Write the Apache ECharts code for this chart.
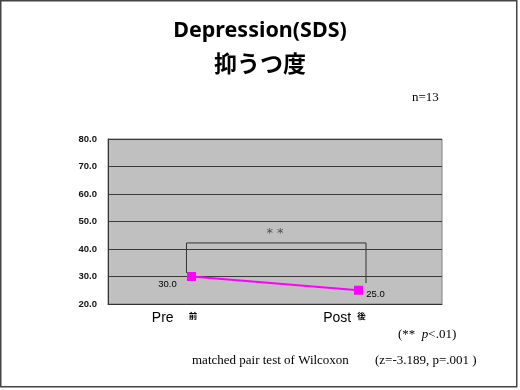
<!DOCTYPE html>
<html>
<head>
<meta charset="utf-8">
<script src="https://cdn.jsdelivr.net/npm/echarts@6/dist/echarts.min.js"></script>
<style>html,body{margin:0;padding:0;background:#fff;}#c{width:520px;height:390px;}</style>
</head>
<body>
<div id="c"></div>
<script>
var categories = ['Pre', 'Post'];
var categoryKanji = ['前', '後'];
var values = [30.0, 25.0];
var yTicks = [20, 30, 40, 50, 60, 70, 80];
var bracketX = [-0.03, -0.03, 1.045, 1.045];
var bracketY = [31.3, 42.2, 42.2, 27.6];
var starPoint = [0.5, 45.6];

var chart = echarts.init(document.getElementById('c'));
var bracketData = bracketX.map(function (x, i) { return [x, bracketY[i]]; });

chart.setOption({
  animation: false,
  backgroundColor: '#ffffff',
  title: [
    { text: 'Depression(SDS)', left: 'center', top: 20, padding: 0,
      textStyle: { fontFamily: 'Noto Sans', fontWeight: 'bold', fontSize: 21.5, color: '#000' } },
    { text: '抑うつ度', left: 'center', top: 52, padding: 0,
      textStyle: { fontFamily: 'Noto Sans CJK JP', fontWeight: 'bold', fontSize: 23, color: '#000' } }
  ],
  grid: { left: 108, right: 78, top: 139, bottom: 86, show: true,
    backgroundColor: '#C0C0C0', borderColor: '#808080', borderWidth: 1 },
  xAxis: [
    { type: 'category', data: categories, boundaryGap: true,
      axisLine: { lineStyle: { color: '#333', width: 1 } },
      axisTick: { inside: true, length: 4, lineStyle: { color: '#555' } },
      axisLabel: {
        margin: 7,
        formatter: function (v, i) {
          return '{a|' + v + '}{k' + i + '|' + categoryKanji[i] + '}';
        },
        rich: {
          a: { fontFamily: 'Liberation Sans', fontSize: 14, color: '#000' },
          k0: { fontFamily: 'Noto Sans CJK JP', fontWeight: 'bold', fontSize: 8.5, color: '#000', padding: [0, 34, 4, 15] },
          k1: { fontFamily: 'Noto Sans CJK JP', fontWeight: 'bold', fontSize: 8.5, color: '#000', padding: [0, 28, 4, 6] }
        }
      }
    },
    { type: 'value', min: -0.5, max: 1.5, show: false }
  ],
  yAxis: {
    type: 'value', min: yTicks[0], max: yTicks[yTicks.length - 1], interval: 10,
    axisLine: { show: true, onZero: false, lineStyle: { color: '#333' } },
    axisTick: { show: false },
    axisLabel: { margin: 11, fontFamily: 'Liberation Sans', fontWeight: 'bold', fontSize: 9.5, color: '#111',
      formatter: function (v) { return v.toFixed(1); } },
    splitLine: { show: true, lineStyle: { color: '#3a3a3a', width: 1 } }
  },
  series: [
    { type: 'line', xAxisIndex: 1, data: bracketData, symbol: 'none',
      lineStyle: { color: '#333', width: 1 }, silent: true, z: 1 },
    { type: 'scatter', xAxisIndex: 1, data: [starPoint], symbolSize: 0,
      label: { show: true, position: 'inside', formatter: '* *', fontFamily: 'DejaVu Sans', fontSize: 13, color: '#333' } },
    { type: 'line', xAxisIndex: 0, data: [
        { value: values[0], label: { offset: [-24, 8] } },
        { value: values[1], label: { offset: [17, 4] } }
      ],
      symbol: 'rect', symbolSize: 9,
      itemStyle: { color: '#FF00FF' },
      lineStyle: { color: '#FF00FF', width: 2 },
      label: { show: true, position: 'inside', fontFamily: 'Liberation Sans', fontSize: 9.5, color: '#000',
        formatter: function (p) { return p.value.toFixed(1); } },
      z: 3
    }
  ],
  graphic: [
    { type: 'rect', shape: { x: 0.75, y: 0.75, width: 516, height: 386 },
      style: { fill: 'none', stroke: '#444', lineWidth: 1.5 }, silent: true },
    { type: 'text', left: 412, top: 91,
      style: { text: 'n=13', fontFamily: 'Liberation Serif', fontSize: 13, fill: '#000' } },
    { type: 'text', left: 398, top: 328,
      style: { text: '{a|(**  }{b|p}{a|<.01)}', rich: {
        a: { fontFamily: 'Liberation Serif', fontSize: 13, fill: '#000' },
        b: { fontFamily: 'Liberation Serif', fontStyle: 'italic', fontSize: 13, fill: '#000' } } } },
    { type: 'text', left: 192, top: 354,
      style: { text: 'matched pair test of Wilcoxon', fontFamily: 'Liberation Serif', fontSize: 13, fill: '#000' } },
    { type: 'text', left: 375, top: 354,
      style: { text: '(z=-3.189, p=.001 )', fontFamily: 'Liberation Serif', fontSize: 13, fill: '#000' } }
  ]
});
</script>
</body>
</html>
